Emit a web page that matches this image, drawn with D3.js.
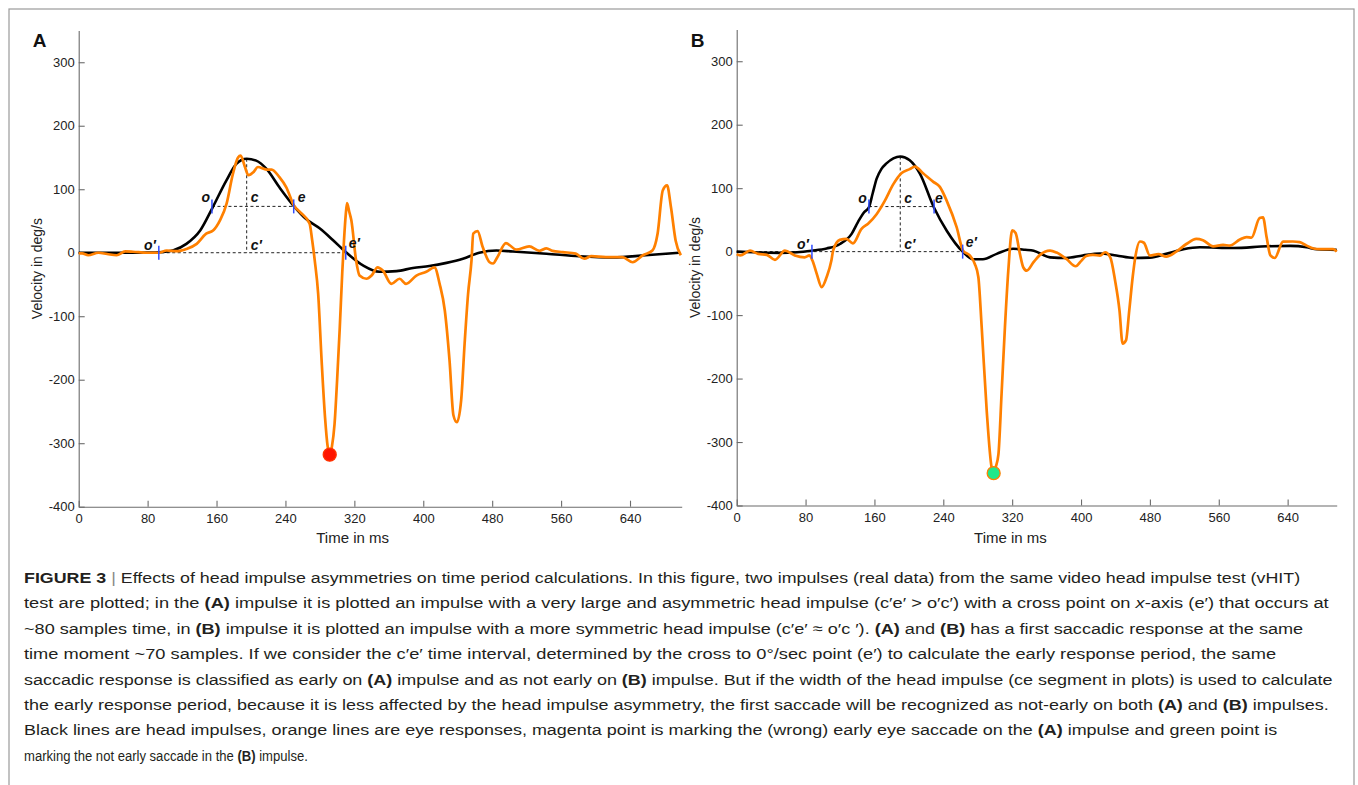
<!DOCTYPE html>
<html><head><meta charset="utf-8">
<script src="https://cdn.jsdelivr.net/npm/d3@7"></script>
<style>
body{margin:0;background:#fff}
svg{display:block}
text{font-family:"Liberation Sans",Arial,Helvetica,sans-serif}
</style>
</head><body>
<svg id="chart" width="1358" height="785"></svg>
<script>
// ---------------- DATA ----------------
const xTicks = [0, 80, 160, 240, 320, 400, 480, 560, 640];
const yTicks = [-400, -300, -200, -100, 0, 100, 200, 300];
const xLabel = "Time in ms";
const yLabel = "Velocity in deg/s";

// Panel A: head impulse (black) [time ms, deg/s]
const headA = [[0,0],[20,0],[40,0],[60,0],[80,0.3],[93,0.8],[110,4],[125,14],[141,35],[155,70],[171.5,114],[183,140],[195,148],[206,145],[218,132],[233,103],[250,73],[264,53],[280,38],[295,20],[310,1],[330,-20],[349,-30],[369,-29],[388,-24],[407,-21],[427,-16],[446,-9.5],[465,0],[485,3.5],[504,2],[543,-1.5],[581,-5.5],[620,-7.5],[658,-4],[697,0]];
// Panel A: eye response (orange)
const eyeA = [[0,-1],[4,-1],[11,-4],[23,0],[33,-2],[44,-4],[54,2],[63,1.5],[79,0],[93,0],[102,3.5],[114,2.5],[125,6],[137,14],[148,30],[156,35],[164,51],[171.6,77],[179,124],[185,150],[188,153],[193,135],[197,122],[203,127],[208,135],[218,131],[224,131],[233,119],[241,103],[250,74],[257,64],[268,46],[271,20],[274,-12],[278,-65],[282,-170],[286,-260],[289,-305],[291.4,-318],[294,-305],[297,-270],[300,-200],[303,-120],[306,-30],[308,20],[310,60],[311.5,78],[314,65],[316.5,51],[322,-12],[326,-36],[334,-41],[340,-36],[347,-23],[353,-28],[363,-49],[372.5,-41],[380,-49],[392,-36],[403.5,-30],[413,-23],[419,-49],[425,-91],[430.5,-170],[435,-256],[439,-267],[444,-232],[448,-143],[452,-65],[456,-12],[458,30],[463,34],[469,9],[477,-15],[481,-17],[486,-7],[496,15],[508,5],[523,10],[535,3],[543,7],[550,3],[562,1],[577,-1.5],[587,-9.5],[595,-5.5],[612,-7],[631,-7],[643,-15],[655,-4],[666,3.5],[672,30],[678,98],[683,106],[687.5,72],[693,19],[699,-4]];

// Panel B: head impulse (black)
const headB = [[0,0],[20,-1],[50,-2],[70,-1],[87,1.5],[104.5,5],[120,12],[133.5,28],[141,47],[148,62],[153.6,70],[158,92],[162.6,115],[168,130],[174,139],[182,147],[190,150],[201,144],[212.8,123],[229,70],[244,33],[262.5,0],[275,-12],[286,-12],[302,-3.5],[321,4.5],[335,3],[345,1.5],[364,-9],[383,-10],[402,-6],[422,-3],[441,-6],[461,-10],[480,-9.5],[499,-3.5],[519,3.7],[538,6.8],[577,5.8],[616,8.4],[643,9],[662,7],[674,3.7],[697,2.7]];
// Panel B: eye response (orange)
const eyeB = [[0,-4],[4,-6],[15.5,1.5],[25,-3.5],[35,-5],[44.5,-13],[56,1.5],[67.5,-6],[79,-9],[84.5,-6],[88,-14],[93,-35],[98.7,-56],[104.5,-40],[110,-14],[112,1.5],[119.7,18.5],[127.4,20],[135,13],[145,36],[152.6,44],[162.5,59],[172,80],[181.8,106],[191.6,124],[201,130],[207,134],[216.8,123],[228.4,110],[236,102],[244,80],[255.5,38.5],[263,1.5],[270.7,-6],[276.5,-19],[280.7,-40],[284.6,-119],[290.4,-250],[296,-339],[298.5,-349],[301,-339],[304,-320],[307.7,-224],[311.6,-119],[315.5,-30],[320,33.6],[324,29.5],[329,-3.6],[333,-25],[337,-30],[344.6,-17],[352,-5.5],[364,1.6],[371.6,-1.5],[383,-11.5],[393.8,-23],[400,-15],[406,-7],[413.8,-5],[422,-6.3],[428,-1],[434,-9],[439.6,-46],[444.7,-93],[448.3,-145],[452.2,-140],[456,-93],[460,-40],[463,-9],[468.5,16],[473,14],[480,-6.3],[490,-4],[499,-8],[510.6,0],[522.3,12],[534,20],[541.6,18],[553.5,8.4],[565,10.5],[573,9.5],[584.5,19],[592.3,23],[598,22],[607.5,53],[611.4,54],[615.6,22.6],[620,-6],[625,-10],[634.7,15.8],[646,16],[654,15],[662,9.5],[670,5],[677.5,4],[693,4],[697,0]];

// Time markers (ms): o, c, e at half-peak, o', e' at zero; half value and peak value
const marksA = {o:154.7, c:195, e:249.6, oP:93, eP:310, half:73, peak:148};
const marksB = {o:153.6, c:190, e:229.3, oP:87.4, eP:262.5, half:71, peak:150};
// Saccade points [time, deg/s]
const saccadeA = [291.4, -318];
const saccadeB = [298.5, -349];

const captionLines = [
  [["FIGURE 3","b"],[" | ","sep"],["Effects of head impulse asymmetries on time period calculations. In this figure, two impulses (real data) from the same video head impulse test (vHIT)"]],
  [["test are plotted; in the "],["(A)","b"],[" impulse it is plotted an impulse with a very large and asymmetric head impulse (c\u2032e\u2032 > o\u2032c\u2032) with a cross point on "],["x","i"],["-axis (e\u2032) that occurs at"]],
  [["~80 samples time, in "],["(B)","b"],[" impulse it is plotted an impulse with a more symmetric head impulse (c\u2032e\u2032 \u2248 o\u2032c \u2032). "],["(A)","b"],[" and "],["(B)","b"],[" has a first saccadic response at the same"]],
  [["time moment ~70 samples. If we consider the c\u2032e\u2032 time interval, determined by the cross to 0\u00b0/sec point (e\u2032) to calculate the early response period, the same"]],
  [["saccadic response is classified as early on "],["(A)","b"],[" impulse and as not early on "],["(B)","b"],[" impulse. But if the width of the head impulse (ce segment in plots) is used to calculate"]],
  [["the early response period, because it is less affected by the head impulse asymmetry, the first saccade will be recognized as not-early on both "],["(A)","b"],[" and "],["(B)","b"],[" impulses."]],
  [["Black lines are head impulses, orange lines are eye responses, magenta point is marking the (wrong) early eye saccade on the "],["(A)","b"],[" impulse and green point is"]],
  [["marking the not early saccade in the "],["(B)","b"],[" impulse."]]
];
const captionEnds = [1301, 1330, 1304, 1277, 1334, 1330, 1278, 308];

// ---------------- DRAW ----------------
const svg = d3.select("#chart");

// figure frame
svg.append("rect").attr("x",9).attr("y",9).attr("width",1345).attr("height",820)
  .attr("fill","none").attr("stroke","#9a9a9a").attr("stroke-width",1.2);

function drawPanel(cfg){
  const x = d3.scaleLinear().domain(cfg.xDomain).range(cfg.xRange);
  const y = d3.scaleLinear().domain([-400,350]).range(cfg.yRange);
  const g = svg.append("g");

  // axes
  const xa = g.append("g").attr("transform",`translate(0,${cfg.yRange[0]})`)
    .call(d3.axisBottom(x).tickValues(xTicks).tickFormat(d=>String(d)).tickSizeInner(-6).tickSizeOuter(0).tickPadding(7));
  const ya = g.append("g").attr("transform",`translate(${cfg.xRange[0]},0)`)
    .call(d3.axisLeft(y).tickValues(yTicks).tickFormat(d=>String(d)).tickSizeInner(-6).tickSizeOuter(0).tickPadding(4));
  [xa,ya].forEach(a=>{
    a.select(".domain").attr("stroke","#6b6b6b").attr("stroke-width",1.1);
    a.selectAll(".tick line").attr("stroke","#6b6b6b").attr("stroke-width",1.1);
    a.selectAll(".tick text").attr("fill","#222").style("font-size","13px");
  });

  // axis titles
  g.append("text").attr("x",x(318)).attr("y",543)
    .attr("text-anchor","middle").attr("fill","#222").style("font-size","15px").text(xLabel);
  g.append("text").attr("transform",`translate(${cfg.xRange[0]-37},${y(-25)}) rotate(-90)`)
    .attr("text-anchor","middle").attr("fill","#222").style("font-size","14px").text(yLabel);

  // panel letter
  g.append("text").attr("x",cfg.xRange[0]-46).attr("y",47).attr("fill","#111")
    .style("font-size","19px").style("font-weight","bold").text(cfg.letter);

  const m = cfg.marks;
  const dl = (x1,y1,x2,y2)=>g.append("line").attr("x1",x1).attr("y1",y1).attr("x2",x2).attr("y2",y2)
    .attr("stroke","#222").attr("stroke-width",1).attr("stroke-dasharray","3,2.5");
  dl(x(0), y(0), x(m.eP), y(0));
  dl(x(m.o), y(m.half), x(m.e), y(m.half));
  dl(x(m.c), y(m.peak), x(m.c), y(0));

  const line = d3.line().x(d=>x(d[0])).y(d=>y(d[1])).curve(d3.curveMonotoneX);
  g.append("path").datum(cfg.head).attr("d", line)
    .attr("fill","none").attr("stroke","#000").attr("stroke-width",2.6).attr("stroke-linejoin","round");
  g.append("path").datum(cfg.eye).attr("d", line)
    .attr("fill","none").attr("stroke","#ff8000").attr("stroke-width",2.7).attr("stroke-linejoin","round");

  // blue markers
  [[m.o,m.half],[m.e,m.half],[m.oP,0],[m.eP,0]].forEach(p=>{
    g.append("line").attr("x1",x(p[0])).attr("x2",x(p[0])).attr("y1",y(p[1])-7).attr("y2",y(p[1])+7)
      .attr("stroke","#2f4cff").attr("stroke-width",1.5);
  });

  // annotation labels
  const lab = (t,xx,yy,anchor)=>g.append("text").attr("x",xx).attr("y",yy).attr("text-anchor",anchor||"start")
    .attr("fill","#111").style("font-size","14px").style("font-weight","bold").style("font-style","italic").text(t);
  lab("o", x(m.o)-2, y(m.half)-4, "end");
  lab("c", x(m.c)+4, y(m.half)-4);
  lab("e", x(m.e)+cfg.eOff, y(m.half)-4);
  lab("o\u2032", x(m.oP)-3, y(0)-3, "end");
  lab("c\u2032", x(m.c)+4, y(0)-3);
  lab("e\u2032", x(m.eP)+3, y(0)-5);

  // saccade point
  g.append("circle").attr("cx",x(cfg.sacc[0])).attr("cy",y(cfg.sacc[1])).attr("r",6.5)
    .attr("fill",cfg.dotFill).attr("stroke",cfg.dotStroke).attr("stroke-width",1.3);
}

drawPanel({letter:"A", xDomain:[0,700], xRange:[78.7,681.7], yRange:[506.7,30.5],
  head:headA, eye:eyeA, marks:marksA, sacc:saccadeA, dotFill:"#ff1500", dotStroke:"#ff3300", eOff:4});
drawPanel({letter:"B", xDomain:[0,697], xRange:[736.7,1336.7], yRange:[505.5,29.5],
  head:headB, eye:eyeB, marks:marksB, sacc:saccadeB, dotFill:"#1fe88a", dotStroke:"#ff8000", eOff:1});

// caption: each line horizontally condensed to match the reference's condensed face
const cap = svg.append("g");
const texts = [], widths = [];
captionLines.forEach((segs,i)=>{
  const lg = cap.append("g");
  const t = lg.append("text").attr("x",0).attr("y",0)
    .attr("fill","#231f20").style("font-size","15.5px");
  segs.forEach(s=>{
    const ts = t.append("tspan").text(s[0]);
    if(s[1]==="b") ts.style("font-weight","bold");
    if(s[1]==="i") ts.style("font-style","italic");
    if(s[1]==="sep") ts.attr("fill","#888");
  });
  texts.push(lg); widths.push(t.node().getComputedTextLength());
});
texts.forEach((lg,i)=>{
  const f = (captionEnds[i]-24)/widths[i];
  lg.attr("transform",`translate(24,${583 + i*25.4}) scale(${f},1)`);
});
</script>
</body></html>
